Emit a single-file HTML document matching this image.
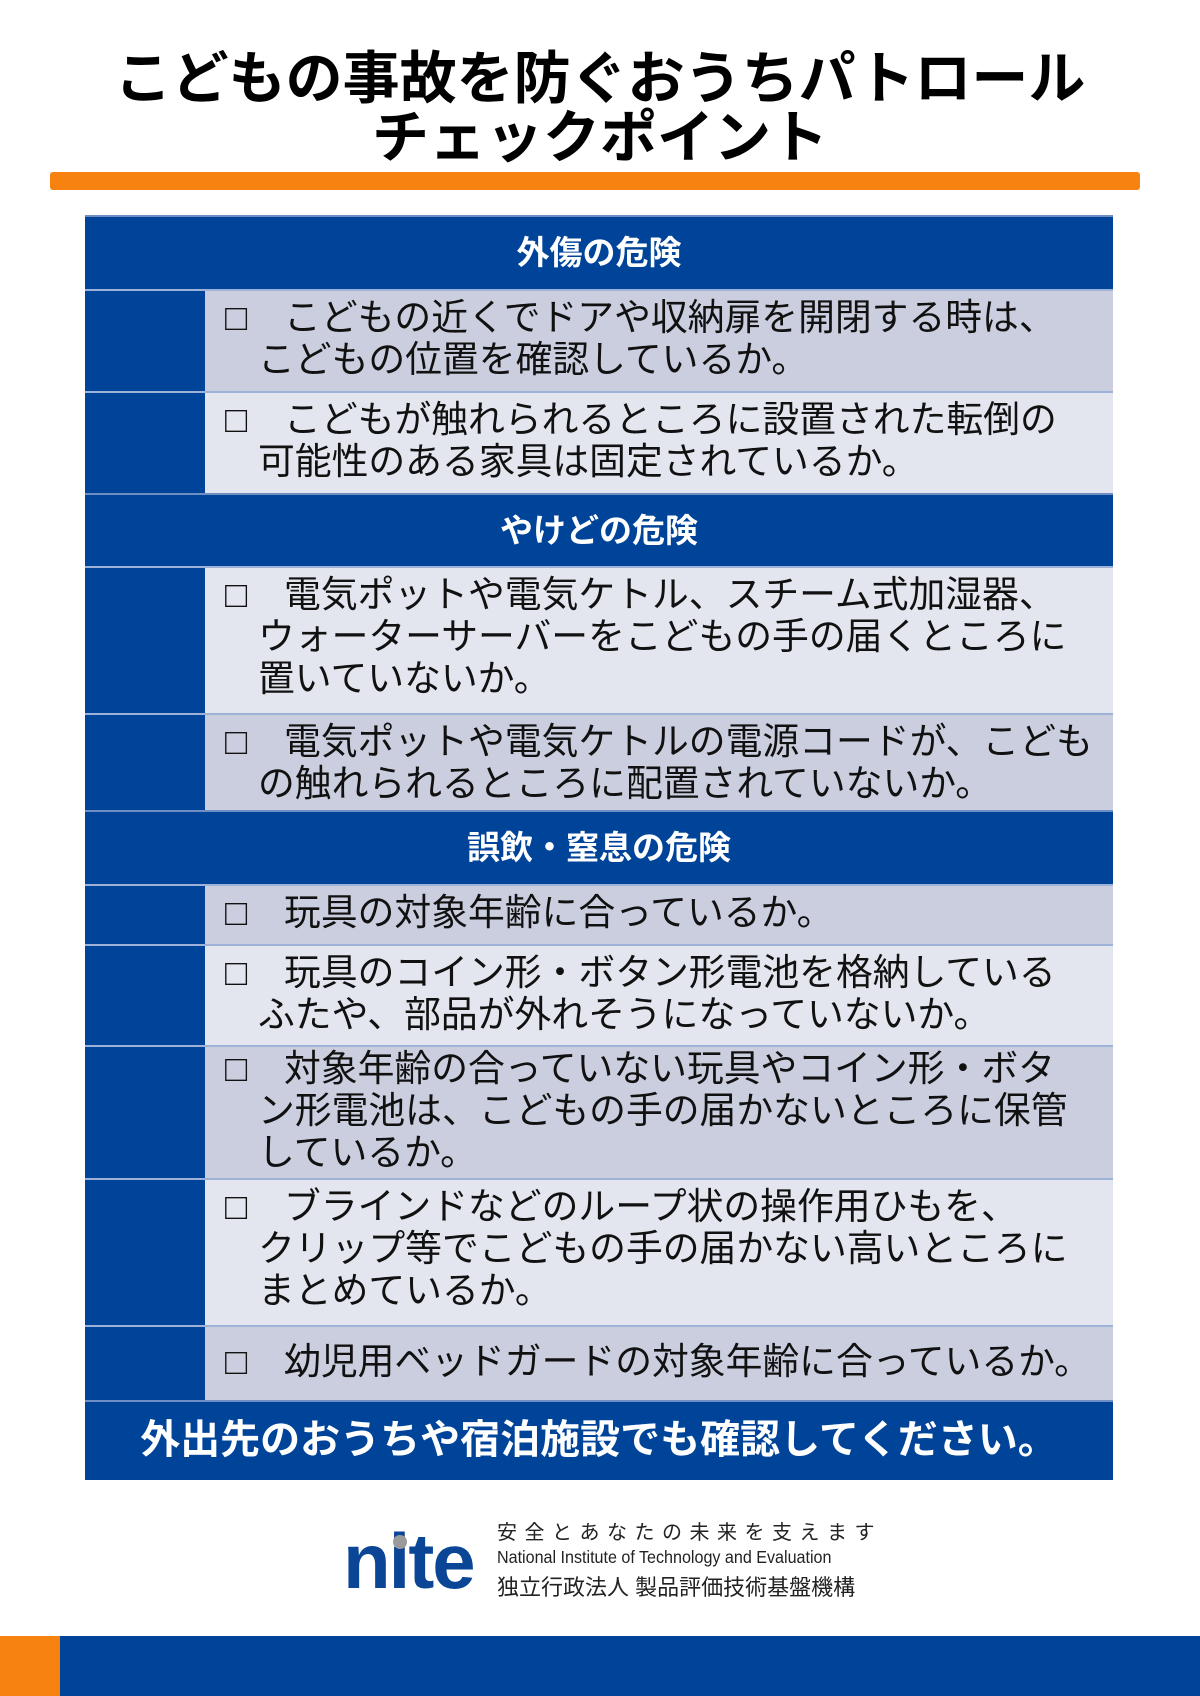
<!DOCTYPE html>
<html><head><meta charset="utf-8"><style>
*{margin:0;padding:0;box-sizing:border-box}
body{width:1200px;height:1696px;background:#fff;position:relative;overflow:hidden;font-family:"Liberation Sans","Noto Sans CJK JP",sans-serif}
.a{position:absolute}
.title{left:0;width:1200px;text-align:center;font-weight:bold;font-size:57px;color:#000;line-height:62px}
.hd{left:85px;width:1028px;background:#00449a;color:#fff;font-weight:bold;font-size:33px;text-align:center;border-top:2px solid #6f8fc4}
.row{left:85px;width:1028px;border-top:2px solid #9eb1d6}
.row .l{position:absolute;left:0;top:0;bottom:0;width:120px;background:#00449a}
.row .t{position:absolute;left:120px;top:0;bottom:0;right:0;padding:6px 0 0 53px;font-size:36.8px;line-height:42px;color:#111;text-indent:-33px;white-space:nowrap}
.dk .t{background:#cbcede}.lt .t{background:#e4e6ef}
</style></head><body>
<div class="a title" style="top:48px">こどもの事故を防ぐおうちパトロール</div>
<div class="a title" style="top:107px">チェックポイント</div>
<div class="a" style="left:50px;top:172px;width:1090px;height:18px;background:#f7820f;border-radius:3px"></div>

<div class="a hd" style="top:215px;height:74px;line-height:72px">外傷の危険</div>
<div class="a row dk" style="top:289px;height:102px"><div class="l"></div><div class="t">□　こどもの近くでドアや収納扉を開閉する時は、<br>こどもの位置を確認しているか。</div></div>
<div class="a row lt" style="top:391px;height:102px"><div class="l"></div><div class="t">□　こどもが触れられるところに設置された転倒の<br>可能性のある家具は固定されているか。</div></div>

<div class="a hd" style="top:493px;height:73px;line-height:71px">やけどの危険</div>
<div class="a row lt" style="top:566px;height:147px"><div class="l"></div><div class="t">□　電気ポットや電気ケトル、スチーム式加湿器、<br>ウォーターサーバーをこどもの手の届くところに<br>置いていないか。</div></div>
<div class="a row dk" style="top:713px;height:97px"><div class="l"></div><div class="t">□　電気ポットや電気ケトルの電源コードが、こども<br>の触れられるところに配置されていないか。</div></div>

<div class="a hd" style="top:810px;height:74px;line-height:72px">誤飲・窒息の危険</div>
<div class="a row dk" style="top:884px;height:60px"><div class="l"></div><div class="t">□　玩具の対象年齢に合っているか。</div></div>
<div class="a row lt" style="top:944px;height:101px"><div class="l"></div><div class="t">□　玩具のコイン形・ボタン形電池を格納している<br>ふたや、部品が外れそうになっていないか。</div></div>
<div class="a row dk" style="top:1045px;height:133px"><div class="l"></div><div class="t" style="padding-top:1px">□　対象年齢の合っていない玩具やコイン形・ボタ<br>ン形電池は、こどもの手の届かないところに保管<br>しているか。</div></div>
<div class="a row lt" style="top:1178px;height:147px"><div class="l"></div><div class="t">□　ブラインドなどのループ状の操作用ひもを、<br>クリップ等でこどもの手の届かない高いところに<br>まとめているか。</div></div>
<div class="a row dk" style="top:1325px;height:75px"><div class="l"></div><div class="t" style="padding-top:14px">□　幼児用ベッドガードの対象年齢に合っているか。</div></div>

<div class="a hd" style="top:1400px;height:80px;line-height:76px;font-size:40px">外出先のおうちや宿泊施設でも確認してください。</div>

<div class="a" style="left:343px;top:1518px;font-size:78px;font-weight:bold;color:#0b4596;letter-spacing:-2px;line-height:86px">nite</div>
<div class="a" style="left:393px;top:1535px;width:14px;height:14px;border-radius:50%;background:#9a9a9a"></div>
<div class="a" style="left:497px;top:1516px;font-size:20px;letter-spacing:7.5px;color:#222">安全とあなたの未来を支えます</div>
<div class="a" style="left:497px;top:1547px;font-size:17.5px;color:#222;transform:scaleX(0.92);transform-origin:left">National Institute of Technology and Evaluation</div>
<div class="a" style="left:497px;top:1570px;font-size:22px;color:#222">独立行政法人 製品評価技術基盤機構</div>

<div class="a" style="left:0;top:1636px;width:60px;height:60px;background:#f7820f"></div>
<div class="a" style="left:60px;top:1636px;width:1140px;height:60px;background:#00449a"></div>
</body></html>
